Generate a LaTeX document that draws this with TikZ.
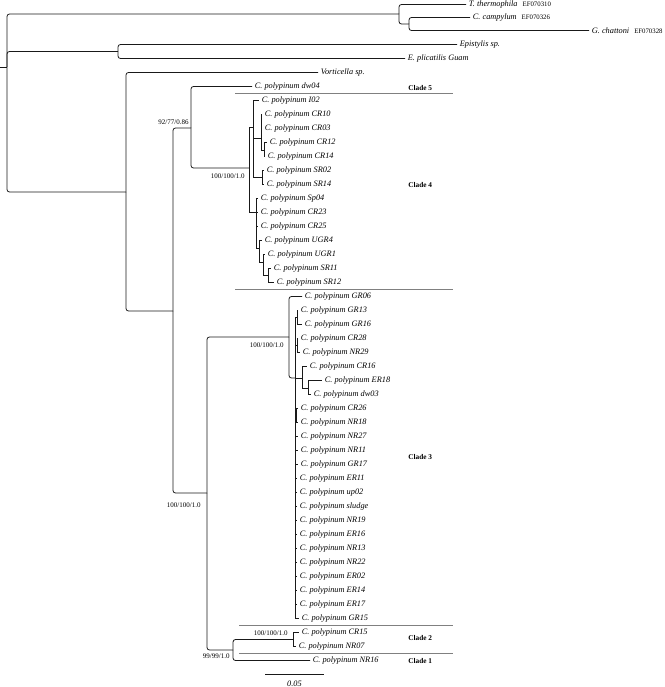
\documentclass[tikz,border=0pt]{standalone}
\usepackage{fontspec}
\setmainfont{Liberation Serif}
\newcommand{\accno}[1]{\hspace{5pt}{\upshape\fontsize{6.8}{8}\selectfont #1}}

\begin{document}
\begin{tikzpicture}[x=1pt,y=-1pt,line width=0.8pt,draw=black!90,
  tree/.style={every edge/.style={draw,to path={|- (\tikztotarget)}}},
  tip/.style={anchor=west,inner xsep=2.5pt,inner ysep=0pt,font=\fontsize{8.3}{9}\selectfont\itshape},
  supp/.style={anchor=east,inner sep=0pt,font=\fontsize{7}{8}\selectfont},
  clade/.style={anchor=west,inner sep=0pt,font=\fontsize{7.3}{8}\selectfont\bfseries},
  sep/.style={draw=black!50,line width=0.6pt}]
  \useasboundingbox (0,0) rectangle (664,687);

  % inner nodes
  \coordinate (root0) at (0,67);
  \coordinate (root) at (7,67);
  \coordinate (ntet) at (399,14);
  \coordinate (ncol) at (409,24);
  \coordinate (nepi) at (118,51.5);
  \coordinate (nvor) at (126,192);
  \coordinate (ncar) at (173,311);
  \coordinate (nc45) at (191,128);
  \coordinate (nc4) at (249,168);
  \coordinate (nup) at (253,127);
  \coordinate (ncr) at (261,138);
  \coordinate (ncr2) at (264,150);
  \coordinate (nsr) at (262,177.5);
  \coordinate (nlo) at (256,212);
  \coordinate (nlo2) at (259,248);
  \coordinate (nlo3) at (263,262);
  \coordinate (nlo4) at (268,275.5);
  \coordinate (nc123) at (207,493);
  \coordinate (nc3) at (289,337);
  \coordinate (npol) at (295,378);
  \coordinate (ngr) at (297,317.5);
  \coordinate (nto) at (297,345.5);
  \coordinate (ncr16) at (302,378);
  \coordinate (ner) at (308,388);
  \coordinate (nce) at (296.5,415.5);
  \coordinate (nc12) at (233,650);
  \coordinate (nc2) at (293,639.5);

  % taxa
  \node[tip] (tther) at (466,4.5) {T. thermophila\accno{EF070310}};
  \node[tip] (tcamp) at (470,17.5) {C. campylum\accno{EF070326}};
  \node[tip] (tchat) at (589,30.5) {G. chattoni\accno{EF070328}};
  \node[tip] (tepi) at (457,44.5) {Epistylis sp.};
  \node[tip] (tplic) at (405,58.5) {E. plicatilis Guam};
  \node[tip] (tvor) at (318,72.5) {Vorticella sp.};
  \node[tip] (tdw04) at (252,86.5) {C. polypinum dw04};
  \node[tip] (tI02) at (259,100.5) {C. polypinum I02};
  \node[tip] (tCR10) at (262,114.5) {C. polypinum CR10};
  \node[tip] (tCR03) at (262,128.5) {C. polypinum CR03};
  \node[tip] (tCR12) at (267,142.5) {C. polypinum CR12};
  \node[tip] (tCR14) at (265,156.5) {C. polypinum CR14};
  \node[tip] (tSR02) at (264,170.5) {C. polypinum SR02};
  \node[tip] (tSR14) at (264,184.5) {C. polypinum SR14};
  \node[tip] (tSp04) at (258,198.5) {C. polypinum Sp04};
  \node[tip] (tCR23) at (258,212.5) {C. polypinum CR23};
  \node[tip] (tCR25) at (258,226.5) {C. polypinum CR25};
  \node[tip] (tUGR4) at (262,240.5) {C. polypinum UGR4};
  \node[tip] (tUGR1) at (265,254.5) {C. polypinum UGR1};
  \node[tip] (tSR11) at (271,268.5) {C. polypinum SR11};
  \node[tip] (tSR12) at (274,282.5) {C. polypinum SR12};
  \node[tip] (tGR06) at (302,296.5) {C. polypinum GR06};
  \node[tip] (tGR13) at (298,310.5) {C. polypinum GR13};
  \node[tip] (tGR16) at (302,324.5) {C. polypinum GR16};
  \node[tip] (tCR28) at (298,338.5) {C. polypinum CR28};
  \node[tip] (tNR29) at (300,352.5) {C. polypinum NR29};
  \node[tip] (tCR16) at (307,366.5) {C. polypinum CR16};
  \node[tip] (tER18) at (322,380.5) {C. polypinum ER18};
  \node[tip] (tdw03) at (311,394.5) {C. polypinum dw03};
  \node[tip] (tCR26) at (298,408.5) {C. polypinum CR26};
  \node[tip] (tNR18) at (298,422.5) {C. polypinum NR18};
  \node[tip] (tNR27) at (298,436.5) {C. polypinum NR27};
  \node[tip] (tNR11) at (298,450.5) {C. polypinum NR11};
  \node[tip] (tGR17) at (298,464.5) {C. polypinum GR17};
  \node[tip] (tER11) at (297,478.5) {C. polypinum ER11};
  \node[tip] (tup02) at (297,492.5) {C. polypinum up02};
  \node[tip] (tsludge) at (297,506.5) {C. polypinum sludge};
  \node[tip] (tNR19) at (297,520.5) {C. polypinum NR19};
  \node[tip] (tER16) at (297,534.5) {C. polypinum ER16};
  \node[tip] (tNR13) at (297,548.5) {C. polypinum NR13};
  \node[tip] (tNR22) at (297,562.5) {C. polypinum NR22};
  \node[tip] (tER02) at (297,576.5) {C. polypinum ER02};
  \node[tip] (tER14) at (297,590.5) {C. polypinum ER14};
  \node[tip] (tER17) at (297,604.5) {C. polypinum ER17};
  \node[tip] (tGR15) at (299,618.5) {C. polypinum GR15};
  \node[tip] (tCR15) at (299,632.5) {C. polypinum CR15};
  \node[tip] (tNR07) at (296,646.5) {C. polypinum NR07};
  \node[tip] (tNR16) at (310,660.5) {C. polypinum NR16};

  % branches
  \draw (root0) -- (root);
  \path[tree,rounded corners=2.5pt]
    (root) edge (ntet) edge (nepi) edge (nvor)
    (ntet) edge (tther) edge (ncol)
    (ncol) edge (tcamp) edge (tchat)
    (nepi) edge (tepi) edge (tplic)
    (nvor) edge (tvor) edge (ncar)
    (ncar) edge (nc45) edge (nc123)
    (nc45) edge (tdw04) edge (nc4)
    (nc123) edge (nc3) edge (nc12)
    (nc12) edge (nc2) edge (tNR16)
    (nc3) edge (tGR06) edge (npol);
  \path[tree]
    (nc4) edge (nup) edge (nlo)
    (nup) edge (tI02) edge (ncr) edge (nsr)
    (ncr) edge (tCR10) edge (tCR03) edge (ncr2)
    (ncr2) edge (tCR12) edge (tCR14)
    (nsr) edge (tSR02) edge (tSR14)
    (nlo) edge (tSp04) edge (tCR23) edge (tCR25) edge (nlo2)
    (nlo2) edge (tUGR4) edge (nlo3)
    (nlo3) edge (tUGR1) edge (nlo4)
    (nlo4) edge (tSR11) edge (tSR12)
    (npol) edge (ngr) edge (nto) edge (ncr16) edge (nce)
    (npol) edge (tNR27) edge (tNR11) edge (tGR17) edge (tER11) edge (tup02)
    (npol) edge (tsludge) edge (tNR19) edge (tER16) edge (tNR13) edge (tNR22)
    (npol) edge (tER02) edge (tER14) edge (tER17) edge (tGR15)
    (ngr) edge (tGR13) edge (tGR16)
    (nto) edge (tCR28) edge (tNR29)
    (ncr16) edge (tCR16) edge (ner)
    (ner) edge (tER18) edge (tdw03)
    (nce) edge (tCR26) edge (tNR18)
    (nc2) edge (tCR15) edge (tNR07);

  % support values
  \node[supp] (s45) at (189,122) {92/77/0.86};
  \node[supp] (s4) at (245,176) {100/100/1.0};
  \node[supp] (s3) at (284,345) {100/100/1.0};
  \node[supp] (s123) at (201,505) {100/100/1.0};
  \node[supp] (s2) at (288,633) {100/100/1.0};
  \node[supp] (s12) at (230,656) {99/99/1.0};

  % clades
  \coordinate (c5a) at (235,93.5);
  \coordinate (c5b) at (453,93.5);
  \coordinate (c4a) at (235,289.5);
  \coordinate (c4b) at (453,289.5);
  \coordinate (c3a) at (239,625.5);
  \coordinate (c3b) at (453,625.5);
  \coordinate (c2a) at (239,653.5);
  \coordinate (c2b) at (453,653.5);
  \draw[sep] (c5a) -- (c5b);
  \draw[sep] (c4a) -- (c4b);
  \draw[sep] (c3a) -- (c3b);
  \draw[sep] (c2a) -- (c2b);
  \node[clade] (cl5) at (408,88) {Clade 5};
  \node[clade] (cl4) at (408,185) {Clade 4};
  \node[clade] (cl3) at (408,457) {Clade 3};
  \node[clade] (cl2) at (408,638) {Clade 2};
  \node[clade] (cl1) at (408,661) {Clade 1};

  % scale
  \coordinate (sb0) at (265,674);
  \coordinate (sb1) at (324,674);
  \draw (sb0) -- (sb1);
  \node[font=\fontsize{8.3}{9}\selectfont\itshape,inner sep=0pt] (sblab) at (294.5,683.5) {0.05};
\end{tikzpicture}
\end{document}
